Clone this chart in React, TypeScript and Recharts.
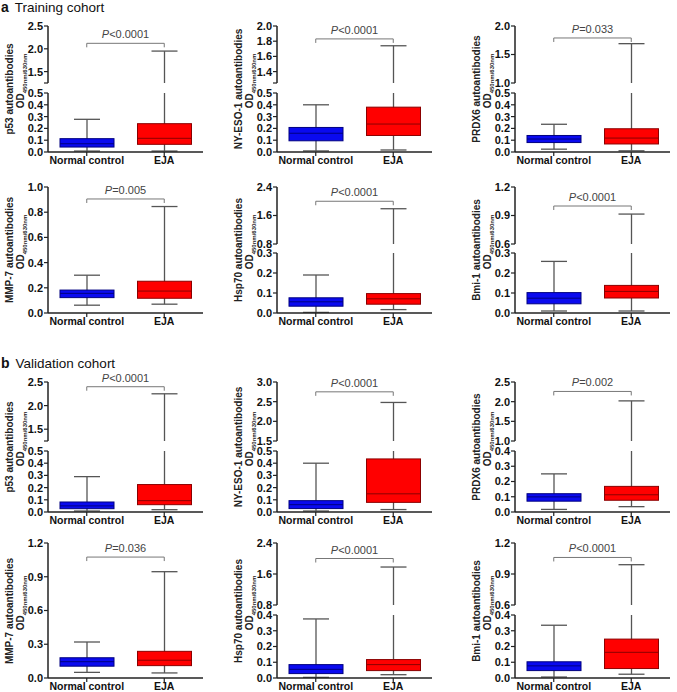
import React from "react";
import { ComposedChart, Bar, XAxis, YAxis, ReferenceLine } from "recharts";

const groups = ["Normal control", "EJA"];
const markers = ["p53", "NY-ESO-1", "PRDX6", "MMP-7", "Hsp70", "Bmi-1"];

// box stats per marker: [min, q1, median, q3, max]
const trainingNormal = [
  [0.008, 0.042, 0.07, 0.113, 0.277],
  [0.009, 0.095, 0.159, 0.208, 0.4],
  [0.024, 0.08, 0.11, 0.14, 0.235],
  [0.062, 0.122, 0.156, 0.182, 0.3],
  [0.003, 0.034, 0.056, 0.076, 0.19],
  [0.01, 0.046, 0.074, 0.102, 0.258],
];
const trainingEJA = [
  [0.008, 0.065, 0.116, 0.24, 1.95],
  [0.017, 0.14, 0.237, 0.38, 1.74],
  [0.01, 0.068, 0.118, 0.197, 1.69],
  [0.07, 0.117, 0.174, 0.252, 0.845],
  [0.017, 0.044, 0.071, 0.097, 1.79],
  [0.01, 0.075, 0.108, 0.138, 0.915],
];
const validationNormal = [
  [0.008, 0.027, 0.05, 0.082, 0.29],
  [0.008, 0.028, 0.06, 0.093, 0.4],
  [0.017, 0.071, 0.099, 0.12, 0.25],
  [0.05, 0.105, 0.145, 0.18, 0.32],
  [0.004, 0.028, 0.055, 0.085, 0.375],
  [0.006, 0.047, 0.077, 0.103, 0.335],
];
const validationEJA = [
  [0.019, 0.06, 0.093, 0.225, 2.25],
  [0.02, 0.079, 0.149, 0.435, 2.48],
  [0.035, 0.077, 0.113, 0.168, 2.02],
  [0.045, 0.11, 0.158, 0.237, 0.945],
  [0.021, 0.047, 0.085, 0.117, 1.78],
  [0.024, 0.06, 0.163, 0.247, 0.99],
];

const trainingP = ["<0.0001", "<0.0001", "=0.033", "=0.005", "<0.0001", "<0.0001"];
const validationP = ["<0.0001", "<0.0001", "=0.002", "=0.036", "<0.0001", "<0.0001"];
const trainingBracket = [2.12, 1.83, 1.79, 0.905, 2.0, 1.0];
const validationBracket = [2.4, 2.75, 2.26, 1.075, 2.0, 1.06];

// broken y axes: upper segment (or null) and lower segment
const trainingAxes = [
  { upper: [1.25, 2.5], upperTicks: [1.25, 1.5, 2.0, 2.5], lower: [0, 0.5], lowerTicks: [0, 0.1, 0.2, 0.3, 0.4, 0.5] },
  { upper: [1.25, 2.0], upperTicks: [1.25, 1.4, 1.6, 1.8, 2.0], lower: [0, 0.5], lowerTicks: [0, 0.1, 0.2, 0.3, 0.4, 0.5] },
  { upper: [1.0, 2.0], upperTicks: [1.0, 1.5, 2.0], lower: [0, 0.5], lowerTicks: [0, 0.1, 0.2, 0.3, 0.4, 0.5] },
  { upper: null, upperTicks: [], lower: [0, 1.0], lowerTicks: [0, 0.2, 0.4, 0.6, 0.8, 1.0] },
  { upper: [0.8, 2.4], upperTicks: [0.8, 1.6, 2.4], lower: [0, 0.3], lowerTicks: [0, 0.1, 0.2, 0.3] },
  { upper: [0.6, 1.2], upperTicks: [0.6, 0.9, 1.2], lower: [0, 0.3], lowerTicks: [0, 0.1, 0.2, 0.3] },
];
const validationAxes = [
  { upper: [1.25, 2.5], upperTicks: [1.25, 1.5, 2.0, 2.5], lower: [0, 0.5], lowerTicks: [0, 0.1, 0.2, 0.3, 0.4, 0.5] },
  { upper: [1.5, 3.0], upperTicks: [1.5, 2.0, 2.5, 3.0], lower: [0, 0.5], lowerTicks: [0, 0.1, 0.2, 0.3, 0.4, 0.5] },
  { upper: [1.0, 2.5], upperTicks: [1.0, 1.5, 2.0, 2.5], lower: [0, 0.4], lowerTicks: [0, 0.1, 0.2, 0.3, 0.4] },
  { upper: null, upperTicks: [], lower: [0, 1.2], lowerTicks: [0, 0.3, 0.6, 0.9, 1.2] },
  { upper: [0.8, 2.4], upperTicks: [0.8, 1.6, 2.4], lower: [0, 0.4], lowerTicks: [0, 0.1, 0.2, 0.3, 0.4] },
  { upper: [0.6, 1.2], upperTicks: [0.6, 0.9, 1.2], lower: [0, 0.4], lowerTicks: [0, 0.1, 0.2, 0.3, 0.4] },
];

const colX = [48, 277, 515];
const rowGeom = [
  { top: 26, upperBottom: 83, lowerTop: 93, bottom: 152 },
  { top: 187, upperBottom: 244, lowerTop: 253, bottom: 313 },
  { top: 382, upperBottom: 441, lowerTop: 451, bottom: 512 },
  { top: 543, upperBottom: 605, lowerTop: 615, bottom: 678 },
];

const FONT = 'Arial, "Liberation Sans", sans-serif';
const AXIS = "#222";
const Y_W = 30;
const PLOT_W = 155;
const M_TOP = 16;
const M_BOT = 7;
const X_H = 18;
const FILLS = ["#0a0aef", "#ff0000"];
const EDGES = ["#000080", "#8b0000"];
const WHISKER = "#555";

function BoxShape(props: any) {
  const { x, y, width, height, payload } = props;
  const { lo, hi, min, q1, med, q3, max, kind } = payload;
  if (!(hi > lo) || !height) return <g />;
  const top = Math.min(y, y + height);
  const h = Math.abs(height);
  const py = (v: number) => top + (h * (hi - v)) / (hi - lo);
  const cx = x + width / 2;
  const cap = 13;
  const inSeg = (v: number) => v >= lo - 1e-9 && v <= hi + 1e-9;
  const boxTop = Math.min(q3, hi);
  const boxBot = Math.max(q1, lo);
  return (
    <g>
      <line x1={cx} x2={cx} y1={py(lo)} y2={py(hi)} stroke={WHISKER} strokeWidth={1.3} />
      {inSeg(min) && <line x1={cx - cap} x2={cx + cap} y1={py(min)} y2={py(min)} stroke={WHISKER} strokeWidth={1.3} />}
      {inSeg(max) && <line x1={cx - cap} x2={cx + cap} y1={py(max)} y2={py(max)} stroke={WHISKER} strokeWidth={1.3} />}
      {boxTop > boxBot && (
        <rect x={x} y={py(boxTop)} width={width} height={py(boxBot) - py(boxTop)} fill={FILLS[kind]} stroke={EDGES[kind]} strokeWidth={1} />
      )}
      {inSeg(med) && <line x1={x} x2={x + width} y1={py(med)} y2={py(med)} stroke={EDGES[kind]} strokeWidth={1} />}
    </g>
  );
}

const fmtTick = (v: number) => (Math.abs(v * 10 - Math.round(v * 10)) < 1e-6 ? v.toFixed(1) : "");

function Segment({ axisX, top, plotH, domain, ticks, stats, showX, bracket, pText }: any) {
  const data = groups.map((g, i) => {
    const s = stats[i];
    const lo = Math.max(s[0], domain[0]);
    const hi = Math.min(s[4], domain[1]);
    return {
      name: g,
      kind: i,
      min: s[0],
      q1: s[1],
      med: s[2],
      q3: s[3],
      max: s[4],
      lo,
      hi,
      range: hi > lo ? [lo, hi] : [domain[0], domain[0]],
    };
  });
  const tickD = (4 * (domain[1] - domain[0])) / plotH;
  const bottom = showX ? 0 : M_BOT;
  const pLabel = (lp: any) => {
    const vb = lp.viewBox || {};
    return (
      <text x={vb.x + (vb.width || 0) / 2} y={vb.y - 5} textAnchor="middle" fontSize={11} fill="#444" fontFamily={FONT}>
        <tspan fontStyle="italic">P</tspan>
        <tspan>{pText}</tspan>
      </text>
    );
  };
  return (
    <div style={{ position: "absolute", left: axisX - Y_W, top: top - M_TOP }}>
      <ComposedChart
        width={Y_W + PLOT_W + 6}
        height={M_TOP + plotH + (showX ? X_H : bottom)}
        data={data}
        margin={{ top: M_TOP, right: 6, bottom, left: 0 }}
      >
        <XAxis
          dataKey="name"
          hide={!showX}
          height={X_H}
          interval={0}
          tickSize={4}
          tickMargin={1}
          axisLine={{ stroke: AXIS, strokeWidth: 1.5 }}
          tickLine={{ stroke: AXIS, strokeWidth: 1.2 }}
          tick={{ fontSize: 10.5, fontWeight: "bold", fill: "#111", fontFamily: FONT }}
        />
        <YAxis
          width={Y_W}
          type="number"
          domain={domain}
          ticks={ticks}
          interval={0}
          allowDataOverflow
          tickFormatter={fmtTick}
          tickSize={4}
          tickMargin={1}
          axisLine={{ stroke: AXIS, strokeWidth: 1.5 }}
          tickLine={{ stroke: AXIS, strokeWidth: 1.2 }}
          tick={{ fontSize: 11, fontWeight: "bold", fill: "#111", fontFamily: FONT }}
        />
        <Bar dataKey="range" barSize={54} shape={BoxShape} isAnimationActive={false} />
        {bracket != null && (
          <ReferenceLine
            segment={[
              { x: groups[0], y: bracket },
              { x: groups[1], y: bracket },
            ]}
            stroke="#777"
            strokeWidth={1}
            label={pLabel}
          />
        )}
        {bracket != null &&
          groups.map((g) => (
            <ReferenceLine
              key={g}
              segment={[
                { x: g, y: bracket },
                { x: g, y: bracket - tickD },
              ]}
              stroke="#777"
              strokeWidth={1}
            />
          ))}
      </ComposedChart>
    </div>
  );
}

function Panel({ col, row, idx, axes, normal, eja, pText, bracket }: any) {
  const axisX = colX[col];
  const g = rowGeom[row];
  const stats = [normal, eja];
  const mid = (g.top + g.bottom) / 2;
  const titleStyle: React.CSSProperties = {
    position: "absolute",
    transform: "translate(-50%, -50%) rotate(-90deg)",
    whiteSpace: "nowrap",
    fontSize: 10,
    fontWeight: "bold",
    color: "#222",
    fontFamily: FONT,
    lineHeight: 1,
  };
  const title = (
    <>
      <div style={{ ...titleStyle, left: axisX - 38, top: mid }}>{markers[idx]} autoantibodies</div>
      <div style={{ ...titleStyle, left: axisX - 26, top: mid - 8 }}>
        OD<sub style={{ fontSize: 6 }}>450nm/630nm</sub>
      </div>
    </>
  );
  if (!axes.upper) {
    return (
      <>
        {title}
        <Segment
          axisX={axisX}
          top={g.top}
          plotH={g.bottom - g.top}
          domain={axes.lower}
          ticks={axes.lowerTicks}
          stats={stats}
          showX
          bracket={bracket}
          pText={pText}
        />
      </>
    );
  }
  return (
    <>
      {title}
      <Segment
        axisX={axisX}
        top={g.top}
        plotH={g.upperBottom - g.top}
        domain={axes.upper}
        ticks={axes.upperTicks}
        stats={stats}
        showX={false}
        bracket={bracket}
        pText={pText}
      />
      <Segment
        axisX={axisX}
        top={g.lowerTop}
        plotH={g.bottom - g.lowerTop}
        domain={axes.lower}
        ticks={axes.lowerTicks}
        stats={stats}
        showX
      />
    </>
  );
}

function SectionTitle({ top, letter, text }: any) {
  return (
    <div style={{ position: "absolute", left: 1, top, fontFamily: FONT, whiteSpace: "nowrap", color: "#111" }}>
      <span style={{ fontWeight: "bold", fontSize: 14 }}>{letter}</span>
      <span style={{ fontSize: 13.5, marginLeft: 6 }}>{text}</span>
    </div>
  );
}

export default function App() {
  const cohorts = [
    { rowStart: 0, normal: trainingNormal, eja: trainingEJA, p: trainingP, br: trainingBracket, axes: trainingAxes },
    { rowStart: 2, normal: validationNormal, eja: validationEJA, p: validationP, br: validationBracket, axes: validationAxes },
  ];
  return (
    <div
      style={{
        position: "absolute",
        left: 0,
        top: 0,
        width: 677,
        height: 692,
        background: "#fff",
        overflow: "hidden",
        fontFamily: FONT,
      }}
    >
      <SectionTitle top={-2} letter="a" text="Training cohort" />
      <SectionTitle top={354} letter="b" text="Validation cohort" />
      {cohorts.map((c, ci) =>
        markers.map((m, i) => (
          <Panel
            key={`${ci}-${m}`}
            col={i % 3}
            row={c.rowStart + Math.floor(i / 3)}
            idx={i}
            axes={c.axes[i]}
            normal={c.normal[i]}
            eja={c.eja[i]}
            pText={c.p[i]}
            bracket={c.br[i]}
          />
        ))
      )}
    </div>
  );
}
